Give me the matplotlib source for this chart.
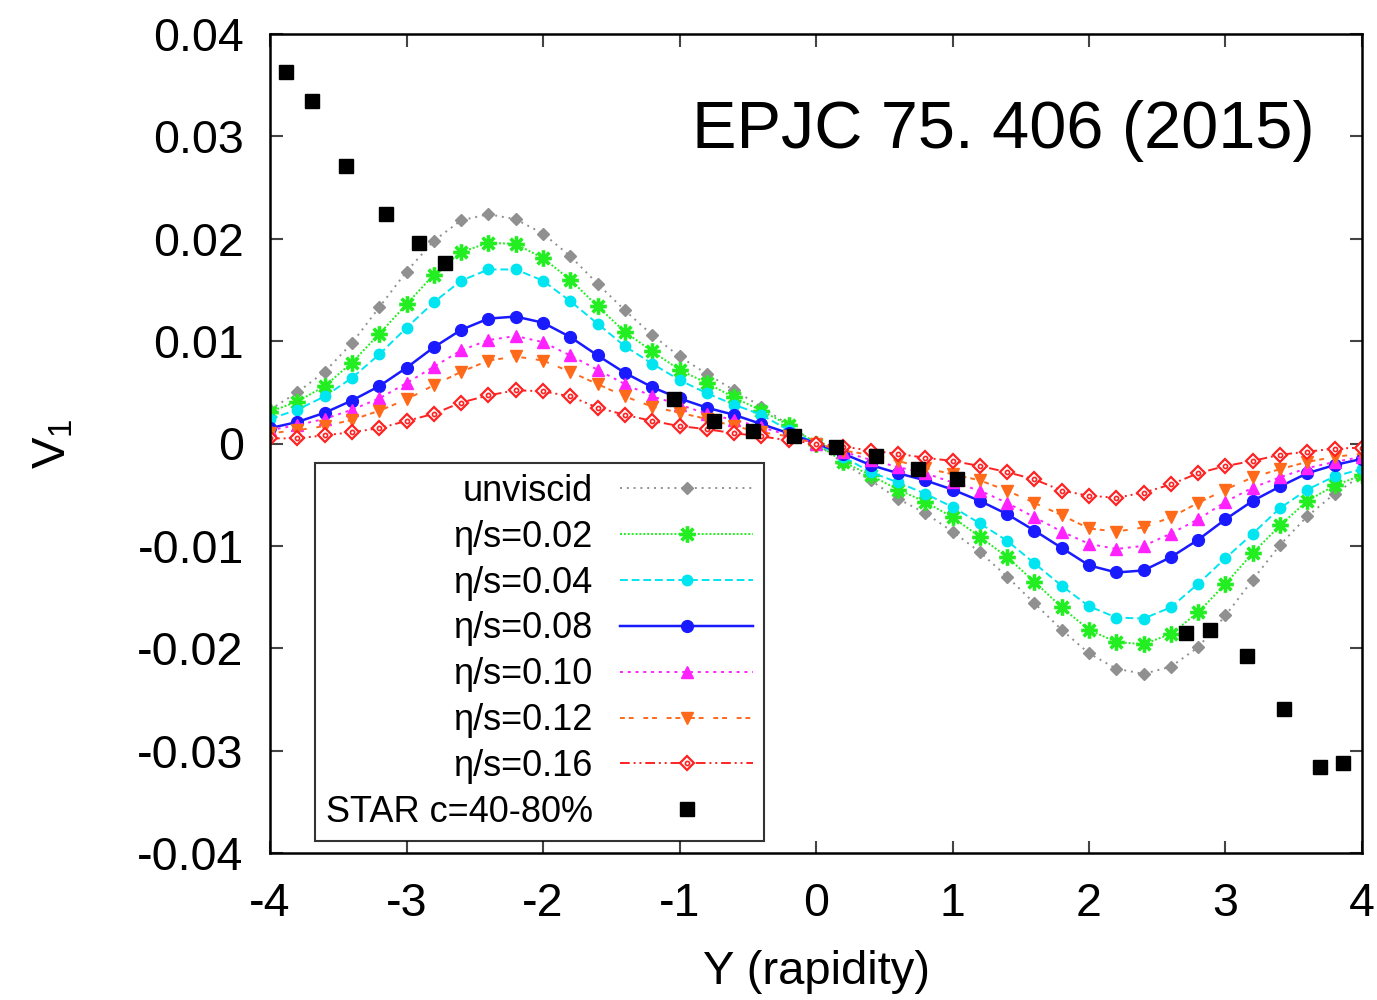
import numpy as np
import matplotlib
matplotlib.use("Agg")
import matplotlib.pyplot as plt
from matplotlib.path import Path
from matplotlib.legend_handler import HandlerTuple

plt.rcParams['font.family'] = ['Liberation Sans', 'DejaVu Sans']
plt.rcParams['mathtext.fontset'] = 'custom'
plt.rcParams['mathtext.rm'] = 'Liberation Sans'
plt.rcParams['mathtext.it'] = 'Liberation Sans'

# rapidity grid of the hydro curves
rapidity = [-4.0, -3.8, -3.6, -3.4, -3.2, -3.0, -2.8, -2.6, -2.4, -2.2, -2.0,
            -1.8, -1.6, -1.4, -1.2, -1.0, -0.8, -0.6, -0.4, -0.2, 0.0,
            0.2, 0.4, 0.6, 0.8, 1.0, 1.2, 1.4, 1.6, 1.8, 2.0,
            2.2, 2.4, 2.6, 2.8, 3.0, 3.2, 3.4, 3.6, 3.8, 4.0]

v1_inviscid = [0.0033, 0.0050, 0.0070, 0.0098, 0.0133, 0.0168, 0.0198, 0.0218, 0.0224, 0.0219, 0.0205,
               0.0183, 0.0156, 0.0130, 0.0106, 0.0085, 0.0068, 0.0052, 0.0036, 0.0018, 0.0,
               -0.0019, -0.0036, -0.0054, -0.0068, -0.0086, -0.0106, -0.0130, -0.0156, -0.0182, -0.0205,
               -0.0220, -0.0225, -0.0218, -0.0199, -0.0168, -0.0133, -0.0099, -0.0071, -0.0049, -0.0031]
v1_002 = [0.0031, 0.0041, 0.0056, 0.0079, 0.0107, 0.0136, 0.0165, 0.0187, 0.0196, 0.0195, 0.0181,
          0.0160, 0.0134, 0.0109, 0.0090, 0.0072, 0.0059, 0.0045, 0.0032, 0.0018, 0.0,
          -0.0018, -0.0031, -0.0045, -0.0057, -0.0072, -0.0091, -0.0111, -0.0135, -0.0160, -0.0182,
          -0.0194, -0.0196, -0.0186, -0.0165, -0.0137, -0.0107, -0.0080, -0.0056, -0.0041, -0.0031]
v1_004 = [0.0024, 0.0033, 0.0046, 0.0064, 0.0087, 0.0113, 0.0138, 0.0159, 0.0170, 0.0170, 0.0159,
          0.0139, 0.0117, 0.0095, 0.0078, 0.0062, 0.0049, 0.0038, 0.0028, 0.0013, 0.0,
          -0.0013, -0.0028, -0.0038, -0.0049, -0.0062, -0.0078, -0.0095, -0.0117, -0.0139, -0.0159,
          -0.0170, -0.0171, -0.0160, -0.0137, -0.0112, -0.0088, -0.0063, -0.0045, -0.0032, -0.0025]
v1_008 = [0.0015, 0.0021, 0.0030, 0.0042, 0.0056, 0.0074, 0.0094, 0.0111, 0.0122, 0.0124, 0.0118,
          0.0104, 0.0086, 0.0069, 0.0055, 0.0044, 0.0035, 0.0028, 0.0019, 0.0010, 0.0,
          -0.0010, -0.0021, -0.0029, -0.0036, -0.0045, -0.0056, -0.0069, -0.0085, -0.0102, -0.0119,
          -0.0126, -0.0124, -0.0111, -0.0094, -0.0074, -0.0056, -0.0042, -0.0029, -0.0021, -0.0015]
v1_010 = [0.0013, 0.0018, 0.0024, 0.0033, 0.0044, 0.0059, 0.0075, 0.0091, 0.0101, 0.0105, 0.0099,
          0.0086, 0.0072, 0.0058, 0.0046, 0.0038, 0.0029, 0.0023, 0.0016, 0.0008, 0.0,
          -0.0008, -0.0016, -0.0023, -0.0029, -0.0038, -0.0046, -0.0058, -0.0072, -0.0086, -0.0098,
          -0.0103, -0.0100, -0.0088, -0.0074, -0.0057, -0.0043, -0.0033, -0.0024, -0.0018, -0.0013]
v1_012 = [0.0010, 0.0013, 0.0017, 0.0023, 0.0032, 0.0043, 0.0057, 0.0070, 0.0081, 0.0085, 0.0081,
          0.0070, 0.0058, 0.0046, 0.0036, 0.0030, 0.0024, 0.0017, 0.0011, 0.0007, 0.0,
          -0.0007, -0.0011, -0.0017, -0.0024, -0.0030, -0.0036, -0.0046, -0.0058, -0.0070, -0.0083,
          -0.0086, -0.0082, -0.0072, -0.0058, -0.0045, -0.0033, -0.0025, -0.0018, -0.0013, -0.0010]
v1_016 = [0.0005, 0.0005, 0.0008, 0.0011, 0.0015, 0.0022, 0.0029, 0.0040, 0.0047, 0.0052, 0.0051,
          0.0046, 0.0035, 0.0028, 0.0022, 0.0017, 0.0014, 0.0010, 0.0007, 0.0003, 0.0,
          -0.0003, -0.0007, -0.0010, -0.0014, -0.0017, -0.0022, -0.0028, -0.0035, -0.0046, -0.0051,
          -0.0053, -0.0048, -0.0040, -0.0029, -0.0022, -0.0017, -0.0011, -0.0008, -0.0005, -0.0004]

# STAR data, centrality 40-80%
star_y = [-3.88, -3.69, -3.44, -3.15, -2.91, -2.72, -1.04, -0.75, -0.46, -0.16,
          0.15, 0.44, 0.75, 1.03, 2.71, 2.89, 3.16, 3.43, 3.69, 3.86]
star_v1 = [0.0363, 0.0335, 0.0271, 0.0224, 0.0196, 0.0176, 0.0043, 0.0022, 0.0012, 0.0007,
           -0.0003, -0.0012, -0.0025, -0.0035, -0.0185, -0.0182, -0.0208, -0.0259, -0.0316, -0.0312]

# 8-armed asterisk marker (gnuplot style)
c = 0.7071
asterisk = Path([(-1, 0), (1, 0), (0, -1), (0, 1), (-c, -c), (c, c), (-c, c), (c, -c)],
                [Path.MOVETO, Path.LINETO] * 4)

fig = plt.figure(figsize=(13.77, 10), dpi=100)
ax = fig.add_axes([0.1961, 0.147, 0.7930, 0.819])

lw = 1.4
h_gray, = ax.plot(rapidity, v1_inviscid, color='#909090', ls=(0, (1, 2.5)), lw=lw,
                  marker='D', ms=6.5, mfc='#909090', mec='#909090')
h_green, = ax.plot(rapidity, v1_002, color='#22ee22', ls=(0, (1, 1)), lw=lw,
                   marker=asterisk, ms=12, mec='#22ee22', mew=2.6)
h_cyan, = ax.plot(rapidity, v1_004, color='#00e5f0', ls=(0, (4, 2)), lw=lw,
                  marker='o', ms=7.5, mfc='#00e5f0', mec='#00e5f0')
h_blue, = ax.plot(rapidity, v1_008, color='#1a1aff', ls='-', lw=lw + 0.4,
                  marker='o', ms=8.5, mfc='#1a1aff', mec='#1a1aff')
h_mag, = ax.plot(rapidity, v1_010, color='#ff22ff', ls=(0, (1.5, 2.5)), lw=lw,
                 marker='^', ms=8, mfc='#ff22ff', mec='#ff22ff')
h_orange, = ax.plot(rapidity, v1_012, color='#ff6a1a', ls=(0, (2.5, 2, 2.5, 5)), lw=lw,
                    marker='v', ms=8, mfc='#ff6a1a', mec='#ff6a1a')
h_red, = ax.plot(rapidity, v1_016, color='#ff2222', ls=(0, (5, 2, 1, 2, 1, 2)), lw=lw,
                 marker='D', ms=7.5, mfc='white', mec='#ff2222', mew=1.6)
h_red2, = ax.plot(rapidity, v1_016, ls='none', marker='o', ms=3, mfc='none',
                  mec='#ff2222', mew=1.2)
h_star, = ax.plot(star_y, star_v1, ls='none', marker='s', ms=10, color='black')

ax.set_xlim(-4, 4)
ax.set_ylim(-0.04, 0.04)
ax.set_xticks([-4, -3, -2, -1, 0, 1, 2, 3, 4])
ax.set_xticklabels(['-4', '-3', '-2', '-1', '0', '1', '2', '3', '4'])
ax.set_yticks([-0.04, -0.03, -0.02, -0.01, 0, 0.01, 0.02, 0.03, 0.04])
ax.set_yticklabels(['-0.04', '-0.03', '-0.02', '-0.01', '0', '0.01', '0.02', '0.03', '0.04'])
ax.tick_params(direction='in', length=9, width=1.5, color='#444444',
               top=True, right=True, labelsize=33.5)
ax.tick_params(axis='x', pad=21)
ax.tick_params(axis='y', pad=19)
for s in ax.spines.values():
    s.set_linewidth(1.8)

ax.set_xlabel('Y (rapidity)', fontsize=34)
ax.set_ylabel('V$_1$', fontsize=34)
ax.xaxis.set_label_coords(0.5, -0.118)
ax.yaxis.set_label_coords(-0.178, 0.5)

ax.text(0.957, 0.882, 'EPJC 75. 406 (2015)', transform=ax.transAxes,
        ha='right', va='center', fontsize=48)

labels = ['unviscid', 'η/s=0.02', 'η/s=0.04', 'η/s=0.08', 'η/s=0.10',
          'η/s=0.12', 'η/s=0.16', 'STAR c=40-80%']
leg = ax.legend([h_gray, h_green, h_cyan, h_blue, h_mag, h_orange, (h_red, h_red2), h_star],
                labels, loc='upper left', bbox_to_anchor=(0.041, 0.476), borderaxespad=0,
                fontsize=26, markerfirst=False, numpoints=1, handlelength=3.7,
                handletextpad=0.75, labelspacing=0.3, borderpad=0.3,
                fancybox=False, frameon=True, edgecolor='black',
                handler_map={tuple: HandlerTuple(ndivide=1)})
leg.get_frame().set_linewidth(1.5)

fig.savefig('out.png', dpi=100)
